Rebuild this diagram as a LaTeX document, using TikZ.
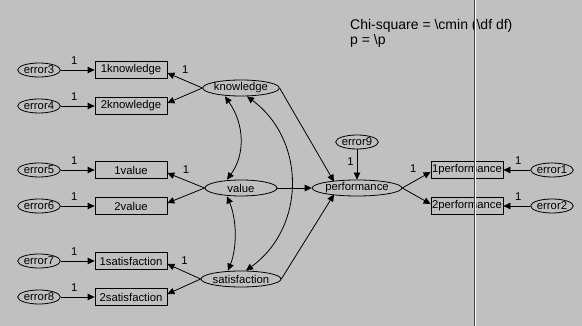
\documentclass[tikz,border=0pt]{standalone}
\usepackage{fontspec}
\setmainfont{Liberation Sans}
\usetikzlibrary{positioning,arrows.meta,calc,shapes.geometric}
\definecolor{panel}{HTML}{C0C0C0}
\begin{document}
\begin{tikzpicture}[
  x=1pt, y=-1pt,
  font=\fontsize{11.3}{13}\selectfont,
  obs/.style={draw, line width=0.8pt, minimum width=72pt, minimum height=17pt, inner sep=0pt},
  lat/.style={draw, ellipse, line width=0.8pt, minimum width=72pt, minimum height=16pt, inner sep=0pt},
  err/.style={draw, ellipse, line width=0.8pt, minimum width=36pt, minimum height=14pt, inner sep=0pt},
  arr/.style={-{Triangle[length=7pt,width=6.5pt]}, line width=0.8pt},
  cov/.style={{Triangle[length=7pt,width=6.5pt]}-{Triangle[length=7pt,width=6.5pt]}, line width=0.8pt},
  one/.style={font=\fontsize{11.3}{13}\selectfont, inner sep=1pt}
]
\fill[panel] (0,0) rectangle (582,326);
\useasboundingbox (0,0) rectangle (582,326);

% latent variables
\node[lat] (know) at (241,88) {knowledge};
\node[lat] (val) at (241,188) {value};
\node[lat] (sat) at (241,279) {satisfaction};
\node[lat] (perf) at (357,188) {performance};

% indicators
\node[obs] (know1) at (131,70) {1knowledge};
\node[obs] (know2) at (131,106) {2knowledge};
\node[obs] (val1) at (131,170) {1value};
\node[obs] (val2) at (131,206) {2value};
\node[obs] (sat1) at (131,261) {1satisfaction};
\node[obs] (sat2) at (131,297) {2satisfaction};
\node[obs] (perf1) at (467,170) {1performance};
\node[obs] (perf2) at (467,206) {2performance};

% errors
\node[err] (e3) at (39,70) {error3};
\node[err] (e4) at (39,106) {error4};
\node[err] (e5) at (39,170) {error5};
\node[err] (e6) at (39,206) {error6};
\node[err] (e7) at (39,261) {error7};
\node[err] (e8) at (39,297) {error8};
\node[err] (e9) at (357,142) {error9};
\node[err] (e1) at (552,170) {error1};
\node[err] (e2) at (552,206) {error2};

% error paths
\draw[arr] (e3) -- node[one, above=4pt, pos=0.4] {1} (know1);
\draw[arr] (e4) -- node[one, above=4pt, pos=0.4] {1} (know2);
\draw[arr] (e5) -- node[one, above=4pt, pos=0.4] {1} (val1);
\draw[arr] (e6) -- node[one, above=4pt, pos=0.4] {1} (val2);
\draw[arr] (e7) -- node[one, above=4pt, pos=0.4] {1} (sat1);
\draw[arr] (e8) -- node[one, above=4pt, pos=0.4] {1} (sat2);
\draw[arr] (e1) -- node[one, above=4pt, pos=0.45] {1} (perf1);
\draw[arr] (e2) -- node[one, above=4pt, pos=0.45] {1} (perf2);
\draw[arr] (e9) -- node[one, left=2pt, pos=0.4] {1} (perf);

% loadings
\draw[arr] (know.west) -- node[one, above right=4pt and 0pt, pos=0.62] {1} ([yshift=-3pt]know1.east);
\draw[arr] (know.west) -- ([yshift=3pt]know2.east);
\draw[arr] (val.west) -- node[one, above right=4pt and 0pt, pos=0.62] {1} ([yshift=-3pt]val1.east);
\draw[arr] (val.west) -- ([yshift=3pt]val2.east);
\draw[arr] (sat.west) -- node[one, above right=4pt and 0pt, pos=0.62] {1} ([yshift=-3pt]sat1.east);
\draw[arr] (sat.west) -- ([yshift=3pt]sat2.east);
\draw[arr] (perf.east) -- node[one, above left=5pt and 0pt, pos=0.55] {1} ([yshift=-2pt]perf1.west);
\draw[arr] (perf.east) -- ([yshift=2pt]perf2.west);

% structural paths
\draw[arr] (know.east) -- ([xshift=-23pt,yshift=-2pt]perf.north);
\draw[arr] (val.east) -- (perf.west);
\draw[arr] (sat.east) -- ([xshift=-23pt,yshift=2pt]perf.south);

% covariances
\draw[cov] ([xshift=-16pt]know.south) .. controls (245,125) and (245,155) .. ([xshift=-14pt]val.north);
\draw[cov] ([xshift=-14pt]val.south) .. controls (237,220) and (237,248) .. ([xshift=-13pt]sat.north);
\draw[cov] ([xshift=6pt]know.south) .. controls (306,140) and (306,227) .. ([xshift=5pt]sat.north);

% fit text
\node[anchor=base west, font=\fontsize{14}{15}\selectfont, inner sep=0pt] (chi) at (350,30) {Chi-square = \textbackslash cmin (\textbackslash df df)};
\node[anchor=base west, font=\fontsize{14}{15}\selectfont, inner sep=0pt] (pval) at (350,45) {p = \textbackslash p};

% page edge
\draw[black!75, line width=1pt] (474,0) -- (474,326);
\draw[white, line width=1pt] (475.5,0) -- (475.5,326);
\end{tikzpicture}
\end{document}
